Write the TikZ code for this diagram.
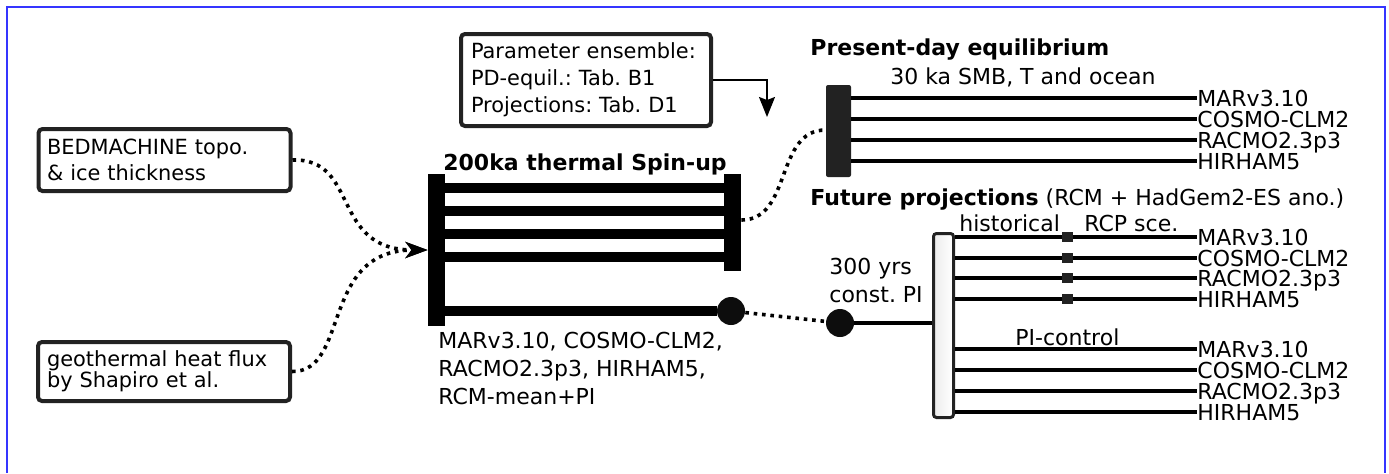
\documentclass[tikz,border=0pt]{standalone}
\usepackage{fontspec}
\setmainfont{DejaVu Sans}
\usetikzlibrary{arrows.meta}
\definecolor{frameblue}{HTML}{3535FF}
\definecolor{darkline}{HTML}{222222}
\frenchspacing

\begin{document}
\begin{tikzpicture}[x=0.5pt, y=-0.5pt,
  inbox/.style={rectangle, rounded corners=2pt, draw=darkline, line width=2pt, align=left, inner ysep=0pt},
  boxfont/.style={font=\fontsize{10.45}{#1}\selectfont},
  bigfont/.style={font=\fontsize{11}{14}\selectfont},
  headfont/.style={font=\bfseries\fontsize{11}{14}\selectfont},
  txt/.style={anchor=base west, inner sep=0pt},
  spinbar/.style={rectangle, fill=black, inner sep=0pt, minimum width=8.5pt},
  spinline/.style={line width=5pt, black},
  runline/.style={line width=1.8pt, black},
  rcm/.style={anchor=west, inner xsep=0pt, inner ysep=0pt, text depth=0pt, font=\fontsize{11}{14}\selectfont},
  dot/.style={circle, fill=black!95, inner sep=0pt, minimum size=14pt},
  sqmark/.style={rectangle, fill=darkline, inner sep=0pt, minimum width=5.5pt, minimum height=5pt},
  feed/.style={line width=1.8pt, dash pattern=on 1.8pt off 2.4pt},
  feedarrow/.style={feed, -{Stealth[length=11pt, width=8pt, inset=3pt]}},
  thinarrow/.style={line width=0.8pt, -{Stealth[length=10pt, width=8pt, inset=1.5pt]}}
]
\useasboundingbox (0,0) rectangle (1389,473);
\draw[frameblue, line width=1pt] (6.5,473) -- (6.5,6.5) -- (1384.5,6.5) -- (1384.5,473);

% input boxes
\node (bed) [inbox, boxfont=13pt, inner xsep=4.25pt, text width=117.5pt, minimum height=31pt] at (164.5,160) {BEDMACHINE topo.\\\& ice thickness};
\node (geo) [inbox, boxfont=10.5pt, inner xsep=4.5pt, text width=117pt, minimum height=29.5pt] at (164,371.5) {geothermal heat flux\\by Shapiro et al.};
\node (param) [inbox, boxfont=13.5pt, inner xsep=5pt, text width=115pt, minimum height=46pt] at (586,80) {Parameter ensemble:\\PD-equil.: Tab. B1\\Projections: Tab. D1};

% spin-up
\node (spintitle) [font=\bfseries\fontsize{11}{13}\selectfont, anchor=base, inner sep=0pt] at (585,170) {200ka thermal Spin-up};
\node (spinL) [spinbar, minimum height=76pt] at (436.5,250) {};
\node (spinR) [spinbar, minimum height=48.5pt] at (732.5,222.5) {};
\node (c1) [dot] at (731,311) {};
\draw[spinline] (spinL.east |- 0,188) -- (spinR.west |- 0,188);
\draw[spinline] (spinL.east |- 0,211) -- (spinR.west |- 0,211);
\draw[spinline] (spinL.east |- 0,234) -- (spinR.west |- 0,234);
\draw[spinline] (spinL.east |- 0,257) -- (spinR.west |- 0,257);
\draw[spinline] (spinL.east |- c1) -- (c1);
\node (spinlist) [txt, bigfont, align=left] at (438,404) {MARv3.10, COSMO-CLM2,\\RACMO2.3p3, HIRHAM5,\\RCM-mean+PI};

\draw[feedarrow] (bed.east) .. controls (360,158) and (330,250) .. (spinL.west);
\draw[feedarrow] (geo.east) .. controls (350,372) and (320,250) .. (spinL.west);

% present-day equilibrium
\node (pdtitle) [txt, headfont] at (810,55) {Present-day equilibrium};
\node (pdforcing) [txt, bigfont] at (890,84) {30 ka SMB, T and ocean};
\node (pdbar) [rectangle, rounded corners=1pt, fill=darkline, inner sep=0pt, minimum width=12.5pt, minimum height=46pt] at (838.5,131) {};
\node (pd1) [rcm] at (1197,98) {MARv3.10};
\node (pd2) [rcm] at (1197,119) {COSMO-CLM2};
\node (pd3) [rcm] at (1197,140) {RACMO2.3p3};
\node (pd4) [rcm] at (1197,161) {HIRHAM5};
\draw[runline] (pdbar.east |- pd1.west) -- (pd1.west);
\draw[runline] (pdbar.east |- pd2.west) -- (pd2.west);
\draw[runline] (pdbar.east |- pd3.west) -- (pd3.west);
\draw[runline] (pdbar.east |- pd4.west) -- (pd4.west);
\draw[feed] (spinR.east |- 0,220) .. controls (792,220) and (775,130) .. (pdbar.west |- 0,130);

\coordinate (pdin) at (767,117);
\draw[thinarrow] (param.east) -| (pdin);

% future projections
\node (fptitle) [txt, bigfont] at (810,205) {\textbf{Future projections} (RCM + HadGem2-ES ano.)};
\node (c2) [dot] at (840,323) {};
\node (constpi) [txt, bigfont, align=left] at (829,302) {300 yrs\\const. PI};
\node (pjbar) [rectangle, rounded corners=1.5pt, draw=darkline, line width=1.5pt, left color=gray!15, right color=white, inner sep=0pt, minimum width=10pt, minimum height=92pt] at (943.5,325.5) {};
\draw[feed] (c1) -- (c2);
\draw[runline] (c2) -- (c2 -| pjbar.west);
\node (hist) [txt, bigfont] at (959,231) {historical};
\node (rcp) [txt, bigfont] at (1084,231) {RCP sce.};
\node (picontrol) [txt, bigfont] at (1015,345) {PI-control};
\node (f1) [rcm] at (1197,237) {MARv3.10};
\node (f2) [rcm] at (1197,258) {COSMO-CLM2};
\node (f3) [rcm] at (1197,278) {RACMO2.3p3};
\node (f4) [rcm] at (1197,299) {HIRHAM5};
\node (g1) [rcm] at (1197,349) {MARv3.10};
\node (g2) [rcm] at (1197,370) {COSMO-CLM2};
\node (g3) [rcm] at (1197,391) {RACMO2.3p3};
\node (g4) [rcm] at (1197,412) {HIRHAM5};
\draw[runline] (pjbar.east |- f1.west) -- (f1.west);
\draw[runline] (pjbar.east |- f2.west) -- (f2.west);
\draw[runline] (pjbar.east |- f3.west) -- (f3.west);
\draw[runline] (pjbar.east |- f4.west) -- (f4.west);
\draw[runline] (pjbar.east |- g1.west) -- (g1.west);
\draw[runline] (pjbar.east |- g2.west) -- (g2.west);
\draw[runline] (pjbar.east |- g3.west) -- (g3.west);
\draw[runline] (pjbar.east |- g4.west) -- (g4.west);
\node (s1) [sqmark] at (1067.5,237) {};
\node (s2) [sqmark] at (1067.5,258) {};
\node (s3) [sqmark] at (1067.5,278) {};
\node (s4) [sqmark] at (1067.5,299) {};
\end{tikzpicture}
\end{document}
